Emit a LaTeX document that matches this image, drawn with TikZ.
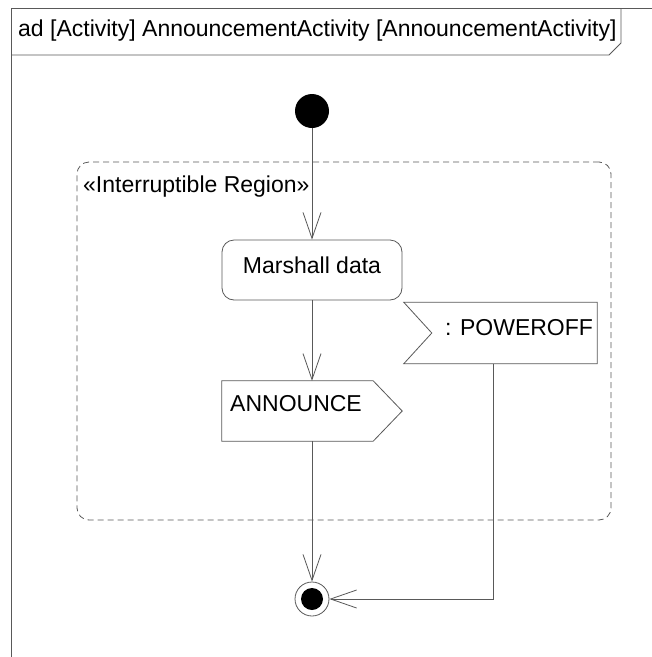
\documentclass[tikz,border=0pt]{standalone}
\usepackage{fontspec}
\setmainfont{Liberation Sans}
\usetikzlibrary{arrows.meta}
\begin{document}
\begin{tikzpicture}[x=1pt,y=-1pt,
  ln/.style={draw=black!65, line width=0.8pt},
  txt/.style={font=\fontsize{23}{27}\selectfont, inner sep=0pt, text=black},
  arr/.style={ln, -{Straight Barb[length=26pt,width=18pt,line width=0.8pt]}}]
\useasboundingbox (0,0) rectangle (652,657);
\fill[white] (0,0) rectangle (652,657);
% frame
\draw[ln] (652,8) -- (11,8) -- (11,657);
\draw[ln] (621,8) -- (621,43) -- (609,55) -- (11,55);
\node[txt, anchor=west] (title) at (18,31) {ad [Activity] AnnouncementActivity [AnnouncementActivity]};
% region
\node[ln, dashed, dash pattern=on 6pt off 4pt, rounded corners=12pt, inner sep=0pt,
      minimum width=534pt, minimum height=358pt] (region) at (344,341) {};
\node[txt, anchor=west] (rlabel) at (83,187) {«Interruptible Region»};
% initial
\node[circle, fill=black, minimum size=34pt, inner sep=0pt] (init) at (312,111) {};
% marshall
\node[ln, rounded corners=12pt, minimum width=180pt, minimum height=60pt, inner sep=0pt] (marshall) at (312,270) {};
\node[txt] (mtext) at (312,265) {Marshall data};
% announce (send signal)
\node[inner sep=0pt, minimum width=180pt, minimum height=60pt] (announce) at (312,411) {};
\draw[ln] (announce.north west) -- ([xshift=-29pt]announce.north east) -- (announce.east)
  -- ([xshift=-29pt]announce.south east) -- (announce.south west) -- cycle;
\node[txt, anchor=west] (atext) at (230,404) {ANNOUNCE};
% poweroff (accept event)
\node[inner sep=0pt, minimum width=193pt, minimum height=61pt] (poweroff) at (500.5,333) {};
\draw[ln] (poweroff.north west) -- (poweroff.north east) -- (poweroff.south east)
  -- (poweroff.south west) -- ([xshift=28pt]poweroff.west) -- cycle;
\node[txt, anchor=west] (ptext) at (445,328) {: POWEROFF};
% final
\node[circle, ln, minimum size=34pt, inner sep=0pt] (final) at (312,599) {};
\node[circle, fill=black, minimum size=22pt, inner sep=0pt] (finalin) at (312,599) {};
% edges
\coordinate (pwx) at (493,0);
\draw[arr] (init) -- (marshall);
\draw[arr] (marshall) -- (announce.north);
\draw[arr] (announce.south) -- (final);
\draw[arr] (poweroff.south -| pwx) |- (final.east);
\end{tikzpicture}
\end{document}
